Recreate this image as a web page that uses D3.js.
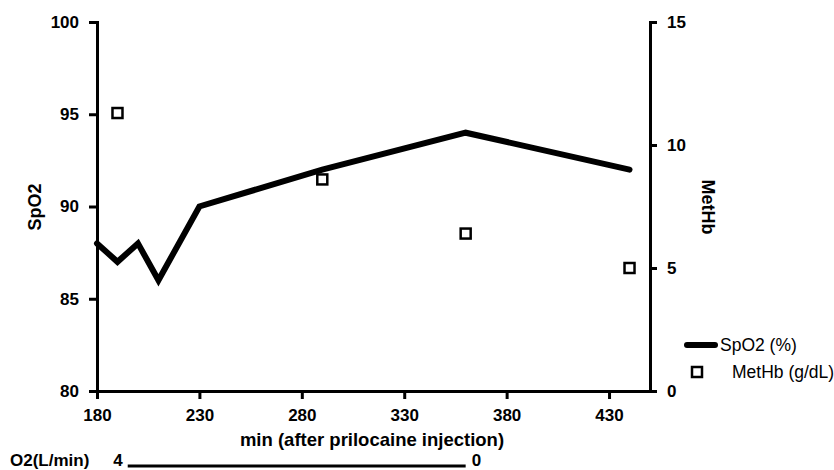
<!DOCTYPE html>
<html lang="en">
<head>
<meta charset="utf-8">
<script src="https://d3js.org/d3.v7.min.js"></script>
<style>
  body { margin: 0; background: #fff; }
  svg { display: block; font-family: "Liberation Sans", Arial, sans-serif; }
  .axis path, .axis line { stroke: #000; stroke-width: 3; }
  .axis text { font-size: 17px; font-weight: bold; fill: #000; }
</style>
</head>
<body>
<svg width="834" height="470"></svg>
<script>
// SpO2 line
var spo2Times = [180, 190, 200, 210, 230, 290, 360, 440];
var spo2Values = [88, 87, 88, 86, 90, 92, 94, 92];
// MetHb squares
var metTimes = [190, 290, 360, 440];
var metValues = [11.3, 8.6, 6.4, 5.0];
// ticks
var xTicks = [180, 230, 280, 330, 380, 430];
var leftTicks = [80, 85, 90, 95, 100];
var rightTicks = [0, 5, 10, 15];
// O2 flow bar under the axis
var o2Times = [195, 360];
var o2Flow = [4, 0];

var svg = d3.select("svg");

var x = d3.scaleLinear().domain([180, 450]).range([97, 650]);
var yL = d3.scaleLinear().domain([80, 100]).range([391, 22]);
var yR = d3.scaleLinear().domain([0, 15]).range([391, 22]);

// axes
svg.append("g").attr("class", "axis")
  .attr("transform", "translate(0,391)")
  .call(d3.axisBottom(x).tickValues(xTicks).tickSizeInner(8).tickSizeOuter(0).tickPadding(10));

svg.append("g").attr("class", "axis")
  .attr("transform", "translate(97,0)")
  .call(d3.axisLeft(yL).tickValues(leftTicks).tickSizeInner(8).tickSizeOuter(0).tickPadding(10));

svg.append("g").attr("class", "axis")
  .attr("transform", "translate(650,0)")
  .call(d3.axisRight(yR).tickValues(rightTicks).tickSizeInner(7).tickSizeOuter(0).tickPadding(10));

svg.selectAll(".axis path").attr("stroke-linecap", "square");

// axis titles
svg.append("text")
  .attr("x", 372).attr("y", 446)
  .attr("text-anchor", "middle")
  .attr("font-size", 18.5).attr("font-weight", "bold")
  .text("min (after prilocaine injection)");

svg.append("text")
  .attr("transform", "translate(41,207) rotate(-90)")
  .attr("text-anchor", "middle")
  .attr("font-size", 18).attr("font-weight", "bold")
  .text("SpO2");

svg.append("text")
  .attr("transform", "translate(702,207) rotate(90)")
  .attr("text-anchor", "middle")
  .attr("font-size", 18).attr("font-weight", "bold")
  .text("MetHb");

// SpO2 line
var line = d3.line()
  .x(function(d, i) { return x(spo2Times[i]); })
  .y(function(d) { return yL(d); });

svg.append("path")
  .datum(spo2Values)
  .attr("d", line)
  .attr("fill", "none")
  .attr("stroke", "#000")
  .attr("stroke-width", 6)
  .attr("stroke-linejoin", "miter")
  .attr("stroke-linecap", "round");

// MetHb squares
svg.selectAll(".met")
  .data(metValues)
  .enter().append("rect")
  .attr("class", "met")
  .attr("x", function(d, i) { return x(metTimes[i]) - 5; })
  .attr("y", function(d) { return yR(d) - 5; })
  .attr("width", 10).attr("height", 10)
  .attr("fill", "#fff")
  .attr("stroke", "#000")
  .attr("stroke-width", 2.5);

// legend
var lg = svg.append("g");
lg.append("line")
  .attr("x1", 687).attr("x2", 715).attr("y1", 345).attr("y2", 345)
  .attr("stroke", "#000").attr("stroke-width", 6).attr("stroke-linecap", "round");
lg.append("text")
  .attr("x", 720).attr("y", 351)
  .attr("font-size", 17.5)
  .text("SpO2 (%)");
lg.append("rect")
  .attr("x", 692).attr("y", 367).attr("width", 10).attr("height", 10)
  .attr("fill", "#fff").attr("stroke", "#000").attr("stroke-width", 2.5);
lg.append("text")
  .attr("x", 732).attr("y", 378)
  .attr("font-size", 17.5)
  .text("MetHb (g/dL)");

// O2 flow row
svg.append("text")
  .attr("x", 10).attr("y", 466)
  .attr("font-size", 17).attr("font-weight", "bold")
  .text("O2(L/min)");

svg.append("line")
  .attr("x1", x(o2Times[0])).attr("x2", x(o2Times[1]))
  .attr("y1", 466).attr("y2", 466)
  .attr("stroke", "#000").attr("stroke-width", 3);

svg.append("text")
  .attr("x", x(o2Times[0]) - 5).attr("y", 466)
  .attr("text-anchor", "end")
  .attr("font-size", 17).attr("font-weight", "bold")
  .text(o2Flow[0]);

svg.append("text")
  .attr("x", x(o2Times[1]) + 6).attr("y", 466)
  .attr("font-size", 17).attr("font-weight", "bold")
  .text(o2Flow[1]);
</script>
</body>
</html>
